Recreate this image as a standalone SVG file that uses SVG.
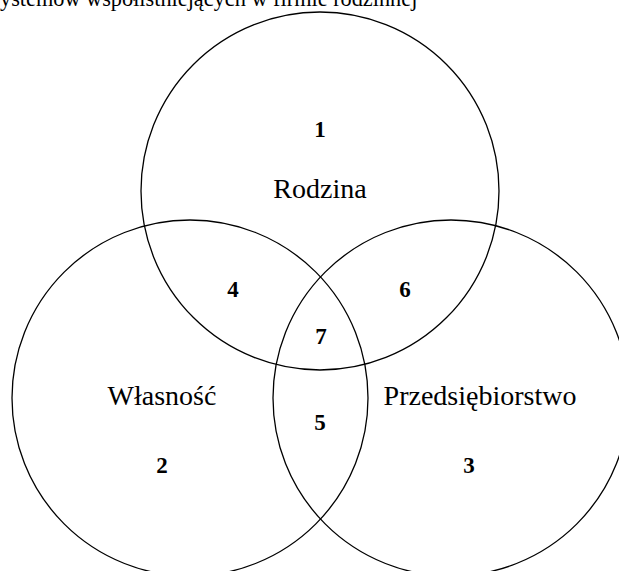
<svg xmlns="http://www.w3.org/2000/svg" width="619" height="571" viewBox="0 0 619 571">
<style>
.c{fill:none;stroke:#000;stroke-width:1.3}
.l{font-family:"Liberation Serif","Times New Roman",serif;font-size:28px;fill:#000;text-anchor:middle}
.n{font-family:"Liberation Serif","Times New Roman",serif;font-size:23px;font-weight:bold;fill:#000;text-anchor:middle}
.t{font-family:"Liberation Serif","Times New Roman",serif;font-size:22.3px;fill:#000}
</style>
<rect width="619" height="571" fill="#fff"/>
<text class="t" x="0" y="6">ystemów współistniejących w firmie rodzinnej</text>
<g id="rodzina">
<circle class="c" cx="320" cy="191" r="179"/>
<text class="n" x="320" y="137">1</text>
<text class="l" x="320" y="198">Rodzina</text>
</g>
<g id="wlasnosc">
<circle class="c" cx="190" cy="398" r="178"/>
<text class="l" x="162" y="405">Własność</text>
<text class="n" x="162" y="473">2</text>
</g>
<g id="przedsiebiorstwo">
<circle class="c" cx="451" cy="398" r="178"/>
<text class="l" x="480" y="405">Przedsiębiorstwo</text>
<text class="n" x="469" y="473">3</text>
</g>
<g id="overlaps">
<text class="n" x="233" y="297">4</text>
<text class="n" x="320" y="430">5</text>
<text class="n" x="405" y="297">6</text>
<text class="n" x="321" y="344">7</text>
</g>
<g id="connectors"/>
</svg>
